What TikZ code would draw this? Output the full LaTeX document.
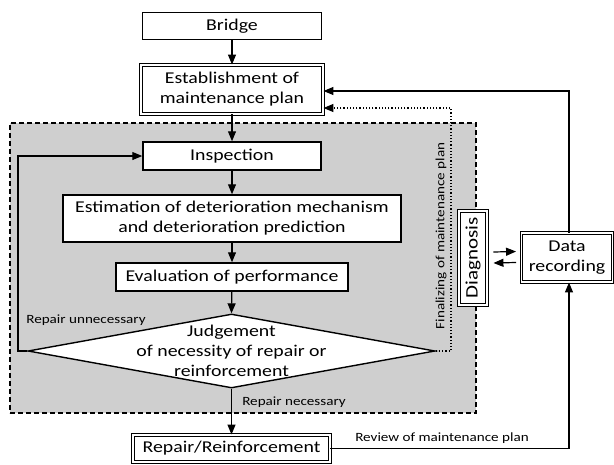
\documentclass[tikz,border=0pt]{standalone}
\usepackage{fontspec}
\setmainfont{Carlito}[FakeStretch=1.2]
\usetikzlibrary{arrows.meta,shapes.geometric}
\begin{document}
\begin{tikzpicture}[x=1pt,y=-1pt,
  every node/.style={font=\fontsize{16.5}{20}\selectfont},
  box/.style={draw,line width=1.5pt,fill=white,inner sep=0pt,align=center},
  dbox/.style={draw,double,double distance=1.3pt,line width=0.9pt,fill=white,inner sep=0pt,align=center},
  arr/.style={line width=1.2pt,-{Triangle[length=10pt,width=8pt]}},
  lbl/.style={font=\fontsize{12.6}{15}\selectfont,inner sep=0pt}]
\useasboundingbox (0,0) rectangle (614,464);
\node[draw,fill=gray!38,line width=1.2pt,dash pattern=on 5pt off 3pt,minimum width=466,minimum height=290,inner sep=0pt] (region) at (243,268) {};
\node[box,minimum width=179,minimum height=27] (bridge) at (232,26) {Bridge};
\node[dbox,minimum width=182,minimum height=49] (est) at (232,89.5) {Establishment of\\maintenance plan};
\node[box,minimum width=178,minimum height=28] (insp) at (232,156) {Inspection};
\node[box,minimum width=338,minimum height=47] (estim) at (232,218.5) {Estimation of deterioration mechanism\\and deterioration prediction};
\node[box,minimum width=232,minimum height=28] (eval) at (232,277) {Evaluation of performance};
\node[draw,line width=1.4pt,fill=white,diamond,aspect=5.5,minimum width=407,minimum height=74,inner sep=0pt] (judge) at (231.5,351) {};
\node[align=center,inner sep=0pt] (judgetext) at (231.5,351) {Judgement\\of necessity of repair or\\reinforcement};
\node[dbox,minimum width=197,minimum height=27] (repair) at (231.5,448.5) {Repair/Reinforcement};
\node[dbox,minimum width=94,minimum height=28,rotate=90,font=\fontsize{17.5}{20}\selectfont] (diag) at (473,258) {Diagnosis};
\node[dbox,minimum width=91,minimum height=49] (data) at (567,257.5) {Data\\recording};
\node[lbl,rotate=90] (final) at (441,236) {Finalizing of maintenance plan};
\node[lbl] (unnec) at (86,320) {Repair unnecessary};
\node[lbl] (nec) at (294,402) {Repair necessary};
\node[lbl] (review) at (442,438) {Review of maintenance plan};
\draw[arr] (bridge) -- (est);
\draw[arr] (est) -- (insp);
\draw[arr] (insp) -- (estim);
\draw[arr] (estim) -- (eval);
\draw[arr] (eval) -- (judge.north);
\draw[arr] (judge.south) -- (repair);
\coordinate (lc) at (18,351);
\draw[arr] (judge.west) -- (lc) |- (insp.west);
\coordinate (dt) at (451,108);
\draw[arr,dotted] (judge.east) -| (dt) -- (est.east |- dt);
\coordinate (rt) at (569,91);
\draw[arr] (data.north -| rt) -- (rt) -- (est.east |- rt);
\draw[arr] (repair.east) -| (data.south -| rt);
\draw[arr] ([xshift=6pt,yshift=6pt]diag.south) -- ([xshift=-5pt,yshift=6pt]data.west);
\draw[arr] ([xshift=-5pt,yshift=-5pt]data.west) -- ([xshift=6pt,yshift=-5pt]diag.south);
\end{tikzpicture}
\end{document}
